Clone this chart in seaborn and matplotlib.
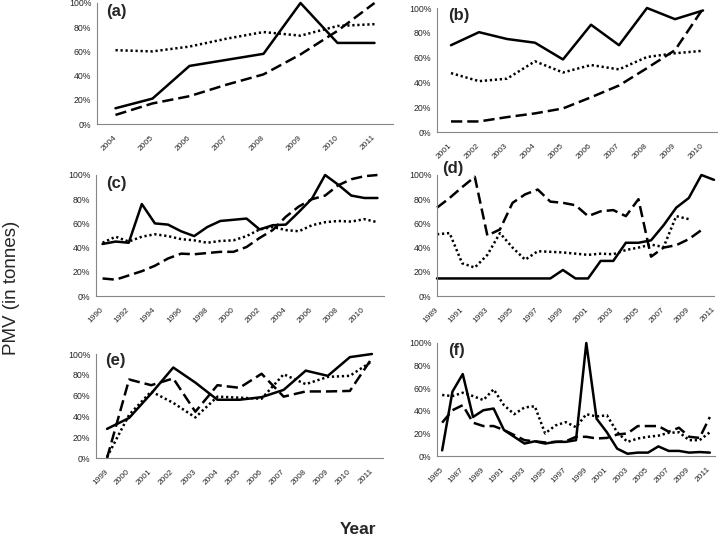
import numpy as np
import pandas as pd
import matplotlib
matplotlib.use('Agg')
import matplotlib.pyplot as plt
import seaborn as sns

# --- data (values in %) ---
a_years = list(range(2004, 2012))
a_solid = [13, 21, 48, 53, 58, 100, 67, 67]
a_dashed = [7.5, 17, 23, 32.5, 41, 57.5, 77, 100]
a_dotted = [61, 60, 64, 70.5, 76, 73, 81, 82.5]

b_years = list(range(2001, 2011))
b_solid = [70, 80.5, 75, 72, 58.5, 86.5, 70, 100, 91, 98]
b_dashed = [8.5, 8.5, 12, 15, 19, 28, 37.5, 51.5, 66, 99.5]
b_dotted = [47.5, 41, 43, 57, 48, 54, 50.5, 60.5, 63.5, 65.5]

c_years = list(range(1990, 2012))
c_solid = [43, 45, 44, 76, 60, 59, 53.5, 49.5, 57, 62, 63, 64,
           55, 58.5, 59, 69.5, 80.5, 100, 92, 83, 81, 81]
c_dashed = [14.5, 13.5, 17, 20.5, 25, 31, 35, 34.5, 35.5, 36.5, 36.5, 40.5,
            48, 54.5, 65.5, 74, 80, 83, 91.5, 96.5, 99, 100]
c_dotted = [44, 49, 45, 49, 51, 49.5, 47, 46, 44, 45.5, 46, 49.5,
            55, 57, 54.5, 53.5, 58.5, 61, 62, 61.5, 63.5, 61]

d_years = list(range(1989, 2012))
d_solid = [14.5, 14.5, 14.5, 14.5, 14.5, 14.5, 14.5, 14.5, 14.5, 14.5, 21.5, 14.5,
           14.5, 29, 29, 44, 44, 46, 58.5, 73, 81, 100, 96]
d_dashed = [73, 81, 90, 98.5, 50, 55, 77, 84, 88, 78, 77, 75,
            66, 70, 71, 66, 80, 32.5, 40, 42, 47, 54.5, np.nan]
d_dotted = [51, 52, 27, 23.5, 34, 52, 40, 30, 37, 36.5, 36, 35,
            34, 35, 34.5, 38, 40, 42.5, 40.5, 66, 63.5, np.nan, np.nan]

e_years = list(range(1999, 2012))
e_solid = [28, 38.5, 62, 87, 72.5, 56, 56, 58.5, 65.5, 84, 79, 97, 100]
e_dashed = [0, 75.5, 70, 76.5, 44.5, 70, 67.5, 81, 59, 64, 64, 64.5, 96]
e_dotted = [1, 41.5, 64, 53, 39, 59, 58, 57, 80.5, 71, 78, 79, 93]

f_years = list(range(1985, 2012))
f_solid = [5, 57, 72.5, 34.5, 40.5, 42, 23, 17, 11, 13, 11, 12.5, 12.5, 14,
           100, 33, 21, 6.5, 2, 3, 3, 8.5, 4.5, 4.5, 3, 3.5, 3]
f_dashed = [29.5, 40.5, 45, 29.5, 26.5, 26.5, 23, 18.5, 14, 13, 12, 12.5, 13, 17,
            17, 15.5, 16, 19, 20, 26.5, 26.5, 26.5, 21.5, 25, 17, 16, 34.5]
f_dotted = [54, 53, 56, 53, 49.5, 59, 45, 37, 43, 44, 20, 27, 30, 25.5,
            37, 35, 36, 21, 12.5, 15.5, 17, 18, 20.5, 21, 14, 14, 21]

panels = {
    'a': (a_years, a_solid, a_dashed, a_dotted),
    'b': (b_years, b_solid, b_dashed, b_dotted),
    'c': (c_years, c_solid, c_dashed, c_dotted),
    'd': (d_years, d_solid, d_dashed, d_dotted),
    'e': (e_years, e_solid, e_dashed, e_dotted),
    'f': (f_years, f_solid, f_dashed, f_dotted),
}

# layout in pixels: left, right, top(100%), bottom(0%)
boxes = {
    'a': (97, 393, 3, 124),
    'b': (437, 717, 8, 132),
    'c': (96, 384, 175, 296),
    'd': (437, 714, 175, 296),
    'e': (96, 383, 354, 458),
    'f': (437, 715, 343, 456),
}
label_pos = {'a': (106, 4), 'b': (448, 8), 'c': (106, 176),
             'd': (442, 161), 'e': (105, 353), 'f': (448, 343)}
label_step = {'a': 1, 'b': 1, 'c': 2, 'd': 2, 'e': 1, 'f': 2}

sns.set_theme(style='white')
plt.rcParams['font.family'] = ['Liberation Sans', 'DejaVu Sans']

W, H = 718, 544
fig = plt.figure(figsize=(W / 100, H / 100), dpi=100)

dashes = {'solid': '', 'dashed': (4.5, 2), 'dotted': (0.9, 1.1)}
grey = '#868686'

for key, (years, solid, dashed, dotted) in panels.items():
    l, r, t, b = boxes[key]
    ax = fig.add_axes([l / W, 1 - b / H, (r - l) / W, (b - t) / H])
    n = len(years)
    df = pd.DataFrame({
        'pos': list(range(n)) * 3,
        'value': list(solid) + list(dashed) + list(dotted),
        'series': ['solid'] * n + ['dashed'] * n + ['dotted'] * n,
    }).dropna()
    sns.lineplot(data=df, x='pos', y='value', hue='series', style='series',
                 palette={'solid': 'black', 'dashed': 'black', 'dotted': 'black'},
                 dashes=dashes, estimator=None, legend=False, ax=ax,
                 linewidth=1.8, clip_on=False)

    ax.set_ylim(0, 100)
    ax.set_yticks(range(0, 101, 20))
    ax.set_yticklabels([f'{v}%' for v in range(0, 101, 20)], fontsize=6.3)

    step = label_step[key]
    ticks = list(range(0, n, step))
    if key == 'd':
        # points on tick marks
        ax.set_xlim(0, n - 1)
        ax.set_xticks(ticks)
        ax.tick_params(axis='x', which='major', length=3, color=grey,
                       width=0.8, direction='out', pad=6)
    else:
        # points between tick marks
        ax.set_xlim(-0.5, n - 0.5)
        ax.set_xticks(ticks)
        ax.set_xticks([i + 0.5 for i in range(-1, n)], minor=True)
        ax.tick_params(axis='x', which='major', length=0, pad=9)
        ax.tick_params(axis='x', which='minor', length=3, color=grey,
                       width=0.8, direction='out')
    ax.set_xticklabels([str(years[i]) for i in ticks], rotation=45,
                       ha='right', va='center', rotation_mode='anchor',
                       fontsize=6.0)

    ax.tick_params(axis='y', length=2, color=grey, width=0.8, pad=2,
                   direction='out')
    ax.set_xlabel('')
    ax.set_ylabel('')
    for side in ['top', 'right']:
        ax.spines[side].set_visible(False)
    for side in ['left', 'bottom']:
        ax.spines[side].set_color(grey)
        ax.spines[side].set_linewidth(0.8)
    ax.patch.set_alpha(0)

    lx, ly = label_pos[key]
    fig.text(lx / W, 1 - ly / H, f'({key})', fontsize=12, fontweight='bold',
             va='top', ha='left')

fig.text(12 / W, 1 - 288 / H, 'PMV (in tonnes)', rotation=90, fontsize=13.5,
         va='center', ha='center')
fig.text(358 / W, 1 - 530 / H, 'Year', fontsize=12.5, fontweight='bold',
         va='center', ha='center')

fig.savefig('out.png', dpi=100)
